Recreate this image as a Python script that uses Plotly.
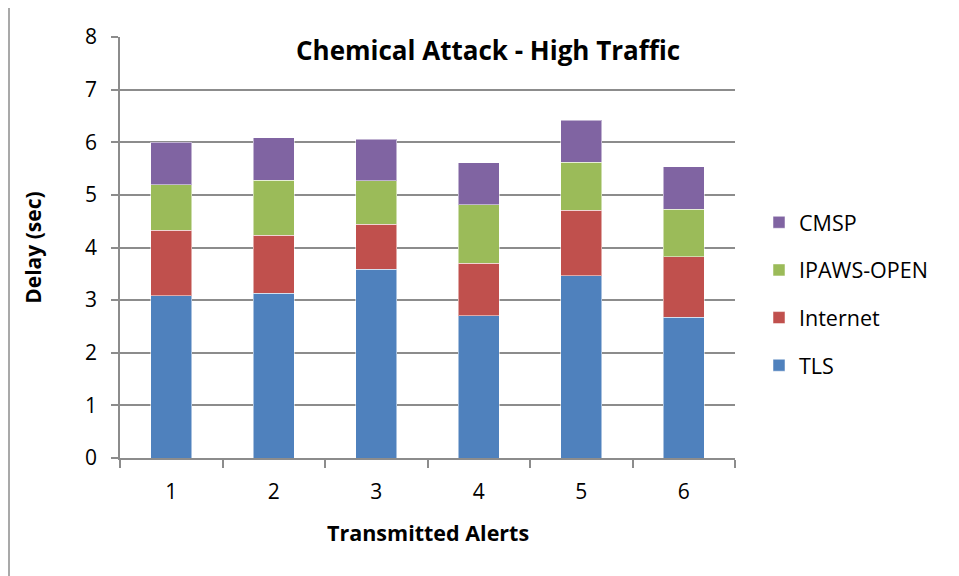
import plotly.graph_objects as go

alerts = ["1", "2", "3", "4", "5", "6"]
tls = [3.08, 3.13, 3.59, 2.70, 3.46, 2.67]
internet = [1.25, 1.10, 0.85, 1.00, 1.25, 1.15]
ipaws = [0.86, 1.05, 0.83, 1.11, 0.91, 0.91]
cmsp = [0.81, 0.81, 0.79, 0.80, 0.80, 0.80]

series = [
    ("TLS", tls, "#4F81BD"),
    ("Internet", internet, "#C0504D"),
    ("IPAWS-OPEN", ipaws, "#9BBB59"),
    ("CMSP", cmsp, "#8064A2"),
]

FONT = "'Open Sans', Lato, sans-serif"
GRID = "#8c8c8c"
OFF = 8  # page body margin

fig = go.Figure()
for i, (name, vals, col) in enumerate(series):
    fig.add_trace(go.Bar(
        x=alerts, y=vals, name=name, legendgroup=name,
        legendrank=1000 - i,
        marker=dict(color=col, line=dict(color="rgba(255,255,255,0.5)", width=1)),
    ))

W, H = 959 - OFF, 576 - OFF
# plot area in reference pixel coordinates
PX0, PX1, PY0, PY1 = 120, 735, 37, 458.5
L = PX0 - OFF
T = PY0 - OFF
R = W - (PX1 - OFF)
B = H - (PY1 - OFF)
pw = PX1 - PX0
ph = PY1 - PY0


def px(x):
    return (x - PX0) / pw


def py(y):
    return (PY1 - y) / ph


fig.update_layout(
    width=W, height=H,
    margin=dict(l=L, r=R, t=T, b=B),
    barmode="stack", bargap=0.6,
    paper_bgcolor="white", plot_bgcolor="white",
    font=dict(family=FONT, size=21, color="#000000"),
    showlegend=True,
    legend=dict(
        x=px(759), xanchor="left",
        y=py(202), yanchor="top",
        traceorder="grouped", tracegroupgap=16.7,
        font=dict(size=21.5, family=FONT),
        bgcolor="rgba(0,0,0,0)",
    ),
    xaxis=dict(
        type="category", tickson="boundaries", ticks="outside", ticklen=8,
        tickcolor=GRID, tickwidth=1.5,
        showline=True, linecolor=GRID, linewidth=1.5,
        showgrid=False, tickfont=dict(size=21), ticklabelstandoff=14,
    ),
    yaxis=dict(
        range=[0, 8], dtick=1, ticks="outside", ticklen=7,
        tickcolor=GRID, tickwidth=1.5,
        showline=True, linecolor=GRID, linewidth=1.5,
        showgrid=True, gridcolor=GRID, gridwidth=1.5,
        zeroline=False, tickfont=dict(size=21), ticklabelstandoff=10,
    ),
    annotations=[
        dict(text="<b>Chemical Attack - High Traffic</b>", xref="paper", yref="paper",
             x=px(488), y=py(50), xanchor="center", yanchor="middle",
             showarrow=False, font=dict(size=26, family=FONT)),
        dict(text="<b>Transmitted Alerts</b>", xref="paper", yref="paper",
             x=px(428), y=py(533), xanchor="center", yanchor="middle",
             showarrow=False, font=dict(size=21.5, family=FONT)),
        dict(text="<b>Delay (sec)</b>", xref="paper", yref="paper", textangle=-90,
             x=px(33), y=py(248), xanchor="center", yanchor="middle",
             showarrow=False, font=dict(size=21, family=FONT)),
    ],
    shapes=[
        dict(type="line", xref="paper", yref="paper",
             x0=px(9), x1=px(980), y0=py(7), y1=py(7),
             line=dict(color=GRID, width=1.5)),
        dict(type="line", xref="paper", yref="paper",
             x0=px(9), x1=px(9), y0=py(7), y1=py(600),
             line=dict(color=GRID, width=1.5)),
    ],
)

fig.write_html("out.html")
